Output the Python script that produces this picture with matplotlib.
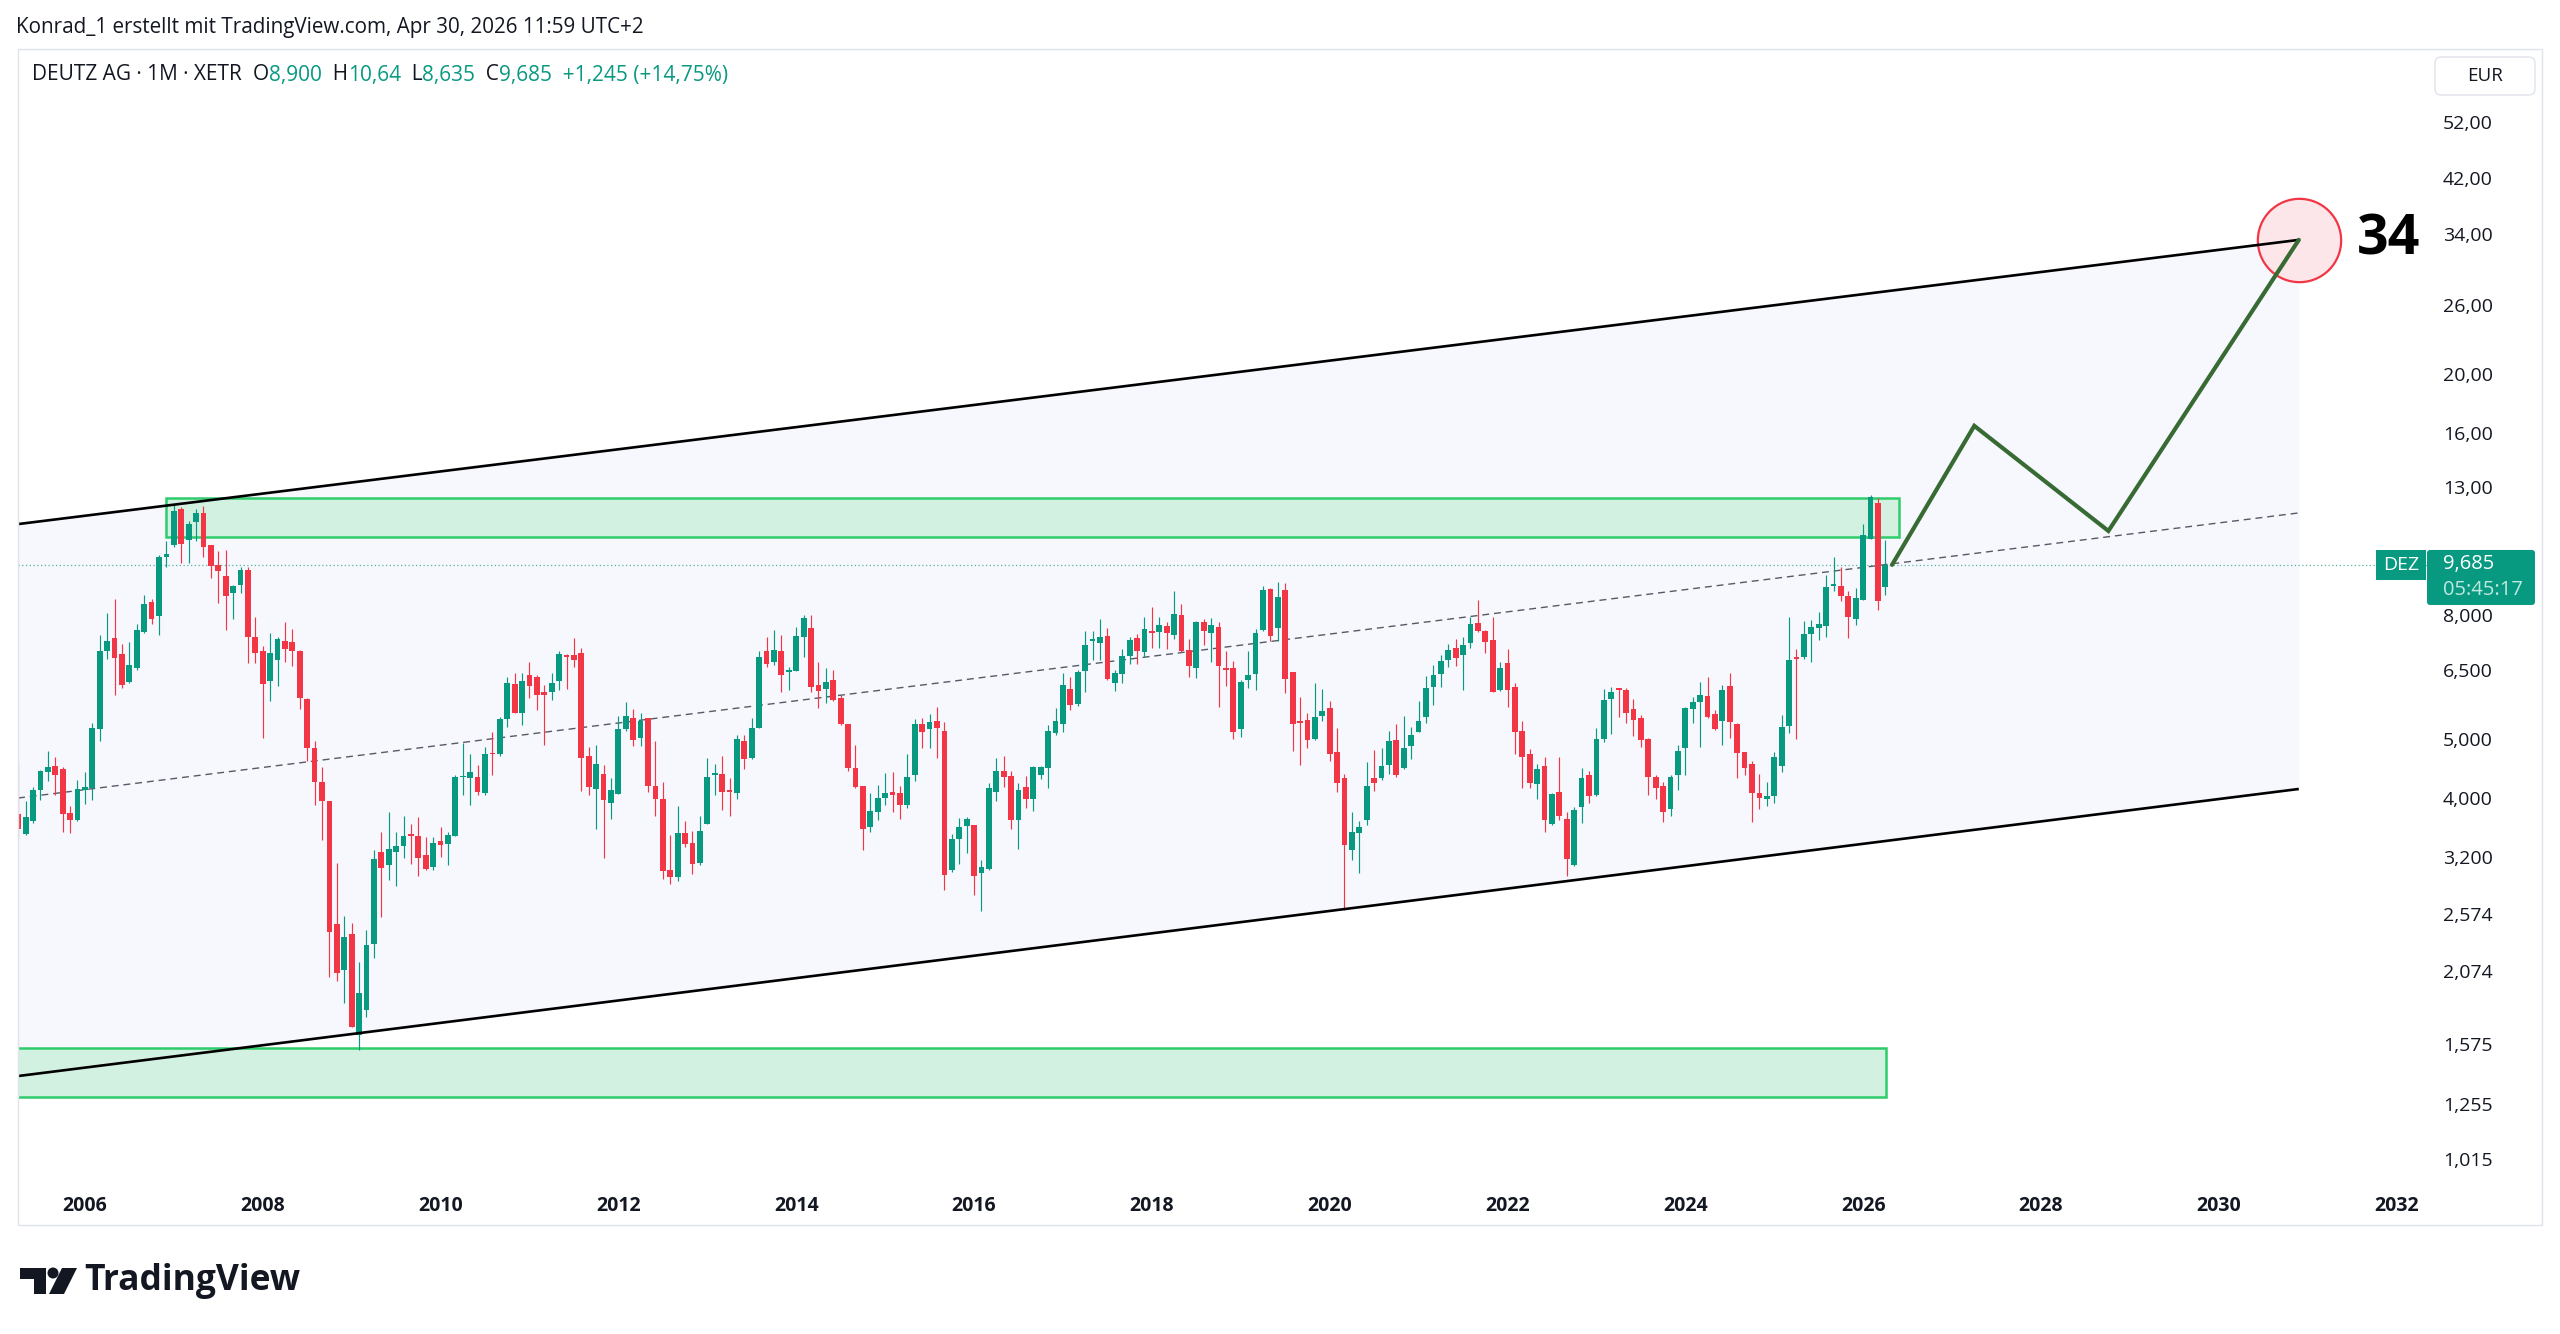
import matplotlib
matplotlib.use("Agg")
import matplotlib.pyplot as plt
import numpy as np
import pandas as pd
from matplotlib.patches import Rectangle, FancyBboxPatch, Polygon, Circle
from matplotlib.ticker import NullLocator

plt.rcParams['font.family'] = ['Open Sans', 'DejaVu Sans']

# ------------------------------------------------------------------ data
first_month = "2005-04"          # first monthly candle
opens = [3.77, 3.49, 3.66, 4.13, 4.42, 4.51, 4.47, 3.78, 3.68,
         4.12, 4.16, 5.20, 7.00, 7.33, 6.90, 6.21, 6.55, 7.52, 8.43, 7.97, 9.98,
         10.46, 11.99, 10.66, 11.41, 11.81, 10.46, 9.67, 9.29, 8.71, 8.99, 9.52, 7.38,
         6.98, 6.24, 6.75, 7.25, 7.23, 7.00, 5.82, 4.84, 4.25, 3.96, 2.48, 2.08,
         2.39, 1.63, 1.79, 2.30, 3.26, 3.10, 3.26, 3.33, 3.49, 3.46, 3.22, 3.08,
         3.40, 3.36, 3.46, 4.33, 4.31, 4.34, 4.08, 4.74, 4.73, 5.39, 6.16, 5.53,
         6.37, 6.32, 5.98, 5.99, 6.23, 6.88, 6.87, 6.93, 4.69, 4.14, 4.38, 3.93,
         4.06, 5.19, 5.41, 5.03, 5.41, 4.19, 3.98, 3.04, 2.97, 3.50, 3.37, 3.13,
         3.62, 4.36, 4.38, 4.11, 4.08, 4.96, 4.66, 5.22, 6.98, 6.69, 7.00, 6.45,
         6.47, 7.36, 7.63, 6.14, 6.04, 6.27, 5.85, 5.29, 4.48, 4.19, 3.58, 3.79,
         4.00, 4.09, 4.08, 3.90, 4.37, 5.30, 5.20, 5.36, 5.16, 3.04, 3.42, 3.60,
         3.61, 3.01, 3.06, 4.10, 4.44, 4.35, 3.68, 4.17, 3.99, 4.36, 4.48, 5.12,
         5.29, 6.04, 5.72, 6.47, 7.27, 7.20, 7.39, 6.20, 6.41, 6.85, 7.35, 6.97,
         7.54, 7.52, 7.67, 7.42, 8.00, 7.02, 6.55, 7.80, 7.49, 7.66, 6.55, 6.56,
         5.19, 6.25, 6.40, 7.57, 8.83, 7.62, 8.80, 6.46, 5.35, 5.37, 5.01, 5.47,
         5.62, 4.77, 4.32, 3.29, 3.50, 3.68, 4.32, 4.31, 4.54, 4.98, 4.48, 4.88,
         5.14, 5.43, 6.10, 6.40, 6.75, 7.08, 6.88, 7.20, 7.76, 7.54, 7.28, 6.03,
         6.67, 6.10, 5.16, 4.72, 4.22, 4.51, 3.62, 4.09, 3.69, 3.10, 3.87, 4.36,
         4.04, 5.01, 5.83, 6.07, 6.03, 5.61, 5.41, 5.00, 4.34, 4.19, 3.83, 4.36,
         4.84, 5.60, 5.76, 5.89, 5.51, 5.35, 6.12, 5.29, 4.76, 4.55, 4.08, 3.98,
         4.03, 4.52, 5.25, 6.83, 6.83, 7.44, 7.62, 7.67, 8.94, 8.93, 8.61, 7.90,
         8.49, 10.67, 12.24, 8.900]
highs = [4.55, 3.95, 4.17, 4.45, 4.78, 4.68, 4.50, 3.88, 4.28,
         4.41, 5.32, 7.42, 8.06, 8.52, 7.18, 7.23, 7.75, 8.63, 8.52, 10.06, 10.60,
         12.18, 12.08, 11.45, 11.96, 12.13, 10.46, 10.20, 10.26, 8.98, 9.61, 9.60, 7.96,
         7.13, 7.49, 7.38, 7.80, 7.60, 7.02, 5.85, 4.96, 4.50, 3.96, 3.13, 2.56,
         2.49, 2.15, 2.42, 3.28, 3.51, 3.79, 3.52, 3.73, 3.63, 3.72, 3.45, 3.45,
         3.59, 3.51, 4.36, 4.92, 4.72, 4.54, 4.86, 5.13, 5.43, 6.32, 6.44, 6.44,
         6.69, 6.37, 6.15, 6.44, 6.98, 6.91, 7.34, 7.08, 4.86, 4.90, 4.54, 4.31,
         5.46, 5.76, 5.61, 5.52, 5.42, 4.97, 4.25, 3.48, 3.88, 3.67, 3.53, 3.74,
         4.66, 4.55, 4.70, 4.32, 5.08, 5.08, 5.41, 6.99, 7.37, 7.58, 7.42, 6.58,
         7.65, 8.00, 8.00, 6.69, 6.55, 6.50, 5.92, 5.30, 4.90, 4.19, 4.08, 4.21,
         4.40, 4.41, 4.18, 4.72, 5.40, 5.42, 5.50, 5.66, 5.34, 3.49, 3.71, 3.72,
         3.61, 3.16, 4.24, 4.66, 4.70, 4.43, 4.23, 4.35, 4.52, 4.52, 5.28, 5.62,
         6.42, 6.34, 6.51, 7.54, 7.54, 7.89, 7.62, 6.51, 7.03, 7.38, 7.45, 7.94,
         8.25, 7.96, 7.80, 8.77, 8.34, 7.31, 7.84, 7.89, 7.92, 7.80, 6.98, 6.74,
         6.26, 6.98, 7.59, 8.93, 8.87, 9.08, 9.03, 6.46, 5.87, 5.52, 6.20, 6.06,
         5.79, 5.22, 4.38, 3.79, 3.67, 4.58, 4.80, 4.84, 5.15, 5.29, 5.46, 5.23,
         5.79, 6.36, 6.62, 6.87, 7.17, 7.30, 7.37, 7.94, 8.49, 7.57, 7.96, 6.69,
         7.05, 6.18, 5.36, 4.81, 4.55, 4.68, 4.07, 4.68, 3.79, 3.86, 4.49, 4.43,
         5.21, 6.04, 6.10, 6.07, 6.07, 5.82, 5.48, 5.02, 4.36, 4.25, 4.37, 4.89,
         5.65, 5.87, 6.22, 6.34, 5.59, 6.15, 6.43, 5.31, 4.77, 4.61, 4.39, 4.25,
         4.76, 5.48, 7.95, 7.05, 7.84, 7.86, 8.11, 9.32, 10.00, 9.62, 8.79, 8.87,
         11.32, 12.63, 12.50, 10.64]
lows = [3.43, 3.48, 3.64, 3.97, 4.27, 4.05, 3.51, 3.50, 3.67,
        3.91, 3.97, 4.97, 6.77, 5.92, 6.07, 6.19, 6.50, 7.47, 7.75, 7.42, 9.61,
        10.36, 9.74, 9.75, 10.60, 9.97, 9.23, 8.38, 7.57, 7.89, 8.71, 6.67, 6.67,
        5.03, 5.79, 6.13, 6.71, 6.61, 5.61, 4.60, 3.89, 3.41, 2.03, 2.00, 1.84,
        1.68, 1.54, 1.74, 2.18, 2.55, 2.93, 2.86, 3.19, 3.12, 2.98, 3.05, 3.04,
        3.20, 3.10, 3.46, 4.05, 3.89, 4.05, 4.05, 4.36, 4.69, 5.24, 5.53, 5.27,
        5.85, 5.59, 4.90, 5.81, 6.03, 6.05, 6.57, 4.11, 4.05, 3.56, 3.19, 3.70,
        4.06, 5.16, 4.87, 4.87, 4.09, 3.74, 2.94, 2.89, 2.92, 3.32, 3.00, 3.10,
        3.62, 4.05, 3.82, 3.74, 3.99, 4.47, 4.63, 5.22, 6.57, 6.62, 5.98, 6.02,
        6.47, 6.82, 5.98, 5.62, 5.73, 5.77, 5.27, 4.44, 4.15, 3.28, 3.51, 3.68,
        3.90, 3.79, 3.70, 3.85, 4.27, 4.83, 4.84, 4.65, 2.82, 3.02, 3.12, 3.25,
        2.77, 2.61, 3.05, 3.96, 4.17, 3.56, 3.30, 3.85, 3.81, 4.30, 4.16, 5.09,
        5.13, 5.58, 5.68, 5.98, 6.76, 6.76, 6.26, 6.01, 6.20, 6.64, 6.65, 6.82,
        7.07, 7.08, 7.03, 7.30, 6.95, 6.32, 6.31, 7.15, 6.71, 5.65, 6.11, 5.01,
        5.04, 6.07, 6.02, 7.54, 7.27, 7.27, 5.95, 4.78, 4.53, 4.83, 4.98, 5.35,
        4.61, 4.09, 2.62, 3.16, 3.01, 3.61, 4.11, 4.28, 4.39, 4.34, 4.46, 4.64,
        5.13, 5.32, 5.69, 6.09, 6.57, 6.60, 6.03, 7.07, 7.52, 6.93, 5.97, 6.01,
        5.65, 4.72, 4.15, 4.15, 3.99, 3.52, 3.61, 3.68, 2.98, 3.09, 3.64, 3.93,
        4.03, 4.94, 5.10, 5.43, 5.32, 5.06, 4.85, 4.04, 3.99, 3.65, 3.73, 4.13,
        4.37, 5.32, 4.86, 5.41, 5.17, 4.89, 5.02, 4.31, 4.37, 3.65, 3.84, 3.88,
        3.93, 4.41, 5.12, 5.00, 6.78, 6.71, 7.28, 7.38, 8.77, 8.44, 7.33, 7.71,
        8.49, 10.67, 8.15, 8.635]
closes = [3.55, 3.72, 4.12, 4.44, 4.50, 4.37, 3.76, 3.68, 4.14,
          4.17, 5.22, 6.98, 7.26, 6.80, 6.14, 6.62, 7.56, 8.34, 7.89, 10.00, 10.09,
          11.90, 10.50, 11.33, 11.80, 10.38, 9.65, 9.47, 8.61, 8.93, 9.50, 7.36, 6.93,
          6.17, 6.93, 7.30, 7.04, 6.98, 5.84, 4.84, 4.25, 3.96, 2.41, 2.06, 2.36,
          1.68, 1.91, 2.29, 3.18, 3.07, 3.30, 3.33, 3.46, 3.46, 3.19, 3.06, 3.37,
          3.35, 3.48, 4.34, 4.34, 4.41, 4.10, 4.72, 4.72, 5.40, 6.20, 5.53, 6.24,
          6.11, 5.91, 5.92, 6.19, 6.92, 6.82, 6.76, 4.65, 4.17, 4.55, 3.97, 4.12,
          5.19, 5.46, 4.99, 5.35, 4.19, 3.99, 3.03, 2.97, 3.50, 3.36, 3.12, 3.53,
          4.34, 4.40, 4.09, 4.10, 5.01, 4.64, 5.22, 6.82, 6.66, 7.02, 6.39, 6.51,
          7.40, 7.91, 6.10, 6.01, 6.21, 5.80, 5.29, 4.48, 4.17, 3.56, 3.81, 4.00,
          4.08, 4.04, 3.90, 4.33, 5.29, 5.14, 5.34, 5.22, 2.99, 3.42, 3.59, 3.69,
          2.98, 3.08, 4.15, 4.44, 4.34, 3.68, 4.12, 3.98, 4.50, 4.50, 5.16, 5.36,
          6.15, 5.69, 6.46, 7.15, 7.28, 7.38, 6.28, 6.42, 6.85, 7.28, 7.00, 7.60,
          7.49, 7.70, 7.47, 8.03, 6.98, 6.60, 7.80, 7.54, 7.70, 6.59, 6.49, 5.14,
          6.21, 6.38, 7.49, 8.80, 7.39, 8.59, 6.29, 5.29, 5.32, 4.99, 5.43, 5.56,
          4.72, 4.24, 3.35, 3.51, 3.58, 4.19, 4.24, 4.51, 4.96, 4.37, 4.84, 5.08,
          5.35, 6.07, 6.38, 6.74, 7.02, 6.80, 7.15, 7.75, 7.54, 7.24, 5.98, 6.56,
          6.03, 5.14, 4.68, 4.24, 4.47, 3.68, 4.06, 3.74, 3.18, 3.82, 4.32, 4.03,
          5.00, 5.80, 5.98, 6.02, 5.53, 5.38, 4.99, 4.33, 4.16, 3.80, 4.34, 4.79,
          5.62, 5.75, 5.91, 5.43, 5.20, 6.03, 5.33, 4.74, 4.49, 4.07, 4.00, 4.03,
          4.68, 5.23, 6.75, 6.79, 7.44, 7.64, 7.75, 8.92, 9.00, 8.61, 7.95, 8.53,
          10.87, 12.55, 8.44, 9.685]

year_ticks = list(range(2006, 2033, 2))
price_ticks = [52, 42, 34, 26, 20, 16, 13, 10, 8, 6.5, 5, 4, 3.2, 2.574, 2.074,
               1.575, 1.255, 1.015]
price_tick_labels = ["52,00", "42,00", "34,00", "26,00", "20,00", "16,00", "13,00",
                     "10,000", "8,000", "6,500", "5,000", "4,000", "3,200", "2,574",
                     "2,074", "1,575", "1,255", "1,015"]

# drawings (x = months since Jan 2006, y = price)
channel_x = [-9.03, 298.8]
channel_upper = [11.31, 33.25]
channel_lower = [1.393, 4.14]
channel_mid = [4.00, 11.80]
zone_top = dict(x0=10.9, x1=244.8, y0=10.78, y1=12.50)
zone_bottom = dict(x0=-14.0, x1=243.1, y0=1.286, y1=1.549)
forecast_x = [243.9, 255.0, 273.1, 298.8]
forecast_y = [9.69, 16.42, 11.02, 33.25]
target_label = "34"
last_price = 9.685
last_price_label = "9,685"
countdown = "05:45:17"

# ------------------------------------------------------------------ style
GREEN = "#089981"
RED = "#F23645"
DARK = "#131722"
W, H, DPI = 2560, 1334, 100

fig = plt.figure(figsize=(W / DPI, H / DPI), dpi=DPI)
fig.patch.set_facecolor("white")

L_px, R_px, T_px, B_px = 18, 2427, 49, 1180
ax = fig.add_axes([L_px / W, 1 - B_px / H, (R_px - L_px) / W, (B_px - T_px) / H])
ax.set_yscale("log")
ax.set_xlim(-9.03, 316.1)
ax.set_ylim(0.939, 68.6)
ax.set_facecolor("white")
for s in ax.spines.values():
    s.set_visible(False)

# month positions
per = pd.period_range(first_month, periods=len(opens), freq="M")
x = np.asarray((per.year - 2006) * 12 + (per.month - 1), dtype=float)
o, h, l, c = (np.asarray(v, dtype=float) for v in (opens, highs, lows, closes))

# channel
ax.fill_between(channel_x, channel_lower, channel_upper, color="#f7f8fe", lw=0, zorder=0)
ax.plot(channel_x, channel_upper, color="black", lw=1.9, zorder=6, solid_capstyle="butt")
ax.plot(channel_x, channel_lower, color="black", lw=1.9, zorder=6, solid_capstyle="butt")
ax.plot(channel_x, channel_mid, color="#555a66", lw=1.0, ls=(0, (5, 3.5)), zorder=2.5)

# zones
for z in (zone_top, zone_bottom):
    ax.add_patch(Rectangle((z["x0"], z["y0"]), z["x1"] - z["x0"], z["y1"] - z["y0"],
                           facecolor="#d3f1e1", edgecolor="#2ecc6a", lw=1.8, zorder=1))

# last price line
ax.axhline(last_price, color=GREEN, lw=0.9, ls=(0, (1, 2)), alpha=0.7, zorder=2)

# candles
up = c >= o
col = np.where(up, GREEN, RED)
ax.vlines(x, l, h, colors=col, lw=0.85, zorder=3)
bot = np.minimum(o, c)
top = np.maximum(o, c)
hgt = np.maximum(top - bot, bot * 0.005)
ax.bar(x, hgt, bottom=bot, width=0.78, color=col, lw=0, zorder=4)

# forecast path + target
ax.plot(forecast_x[-1:], forecast_y[-1:], marker="o", ms=60, mfc="#fde6e9",
        mec="#F23645", mew=1.6, zorder=5, ls="none")
ax.plot(forecast_x, forecast_y, color="#386b34", lw=3.0, zorder=7,
        solid_capstyle="round", solid_joinstyle="miter")
ax.annotate(target_label, xy=(forecast_x[-1], forecast_y[-1]), xytext=(58, 0),
            textcoords="offset pixels", ha="left", va="center", fontsize=40,
            fontweight="bold", color="black", zorder=8)

# axes ticks
ax.yaxis.tick_right()
ax.set_yticks(price_ticks)
ax.set_yticklabels(price_tick_labels)
ax.yaxis.set_minor_locator(NullLocator())
ax.tick_params(axis="y", length=0, pad=11.5, labelsize=14, labelcolor=DARK)
ax.set_xticks([(yr - 2006) * 12 for yr in year_ticks])
ax.set_xticklabels([str(yr) for yr in year_ticks])
ax.xaxis.set_minor_locator(NullLocator())
ax.tick_params(axis="x", length=0, pad=11.5, labelsize=14, labelcolor=DARK)
for t in ax.get_xticklabels():
    t.set_fontweight("bold")

# ------------------------------------------------------------------ overlay (pixel coords)
ov = fig.add_axes([0, 0, 1, 1], zorder=10)
ov.set_xlim(0, W)
ov.set_ylim(H, 0)
ov.axis("off")
ov.patch.set_alpha(0)

ov.add_patch(Rectangle((18, 49), 2524, 1176, fill=False, ec="#e0e3eb", lw=1.0))

ov.text(16, 27, "Konrad_1 erstellt mit TradingView.com, Apr 30, 2026 11:59 UTC+2",
        fontsize=14.85, color=DARK, va="center", ha="left")

legend_parts = [("DEUTZ AG · 1M · XETR  ", DARK), ("O", DARK), ("8,900", GREEN),
                ("  H", DARK), ("10,64", GREEN), ("  L", DARK), ("8,635", GREEN),
                ("  C", DARK), ("9,685", GREEN), ("  +1,245 (+14,75%)", GREEN)]
t = ov.text(32, 75, legend_parts[0][0], fontsize=15, color=legend_parts[0][1],
            va="center", ha="left")
for s, cc in legend_parts[1:]:
    t = ov.annotate(s, xy=(1, 0), xycoords=t, xytext=(0, 0), textcoords="offset points",
                    fontsize=15, color=cc, va="bottom", ha="left")

# EUR box
ov.add_patch(FancyBboxPatch((2435, 57), 100, 38, boxstyle="round,pad=0,rounding_size=6",
                            fc="white", ec="#e0e3eb", lw=1.0))
ov.text(2485, 76, "EUR", fontsize=13.5, color=DARK, ha="center", va="center")

# price labels tied to the price scale
y_disp = ax.transData.transform((0, last_price))[1]
y_px = H - y_disp
ov.add_patch(Rectangle((2376, y_px - 15), 50, 30, fc=GREEN, ec="none"))
ov.text(2401, y_px, "DEZ", color="white", fontsize=14, ha="center", va="center")
ov.add_patch(FancyBboxPatch((2427, y_px - 15), 108, 55,
                            boxstyle="round,pad=0,rounding_size=3", fc=GREEN, ec="none"))
ov.text(2443, y_px - 1, last_price_label, color="white", fontsize=14.5, ha="left", va="center")
ov.text(2443, y_px + 25, countdown, color="#bfe9df", fontsize=14.5, ha="left", va="center")

# TradingView logo
ov.add_patch(Polygon([(20, 1268), (46, 1268), (46, 1294), (34, 1294), (34, 1279), (20, 1279)],
                     closed=True, fc=DARK, ec="none"))
ov.add_patch(Circle((53, 1273), 5.5, fc=DARK, ec="none"))
ov.add_patch(Polygon([(62, 1268), (77, 1268), (64, 1294), (49, 1294)], closed=True,
                     fc=DARK, ec="none"))
ov.text(84, 1281, "TradingView", fontsize=25.5, fontweight="bold", color=DARK,
        ha="left", va="center")

fig.savefig("out.png", dpi=DPI, facecolor="white")
